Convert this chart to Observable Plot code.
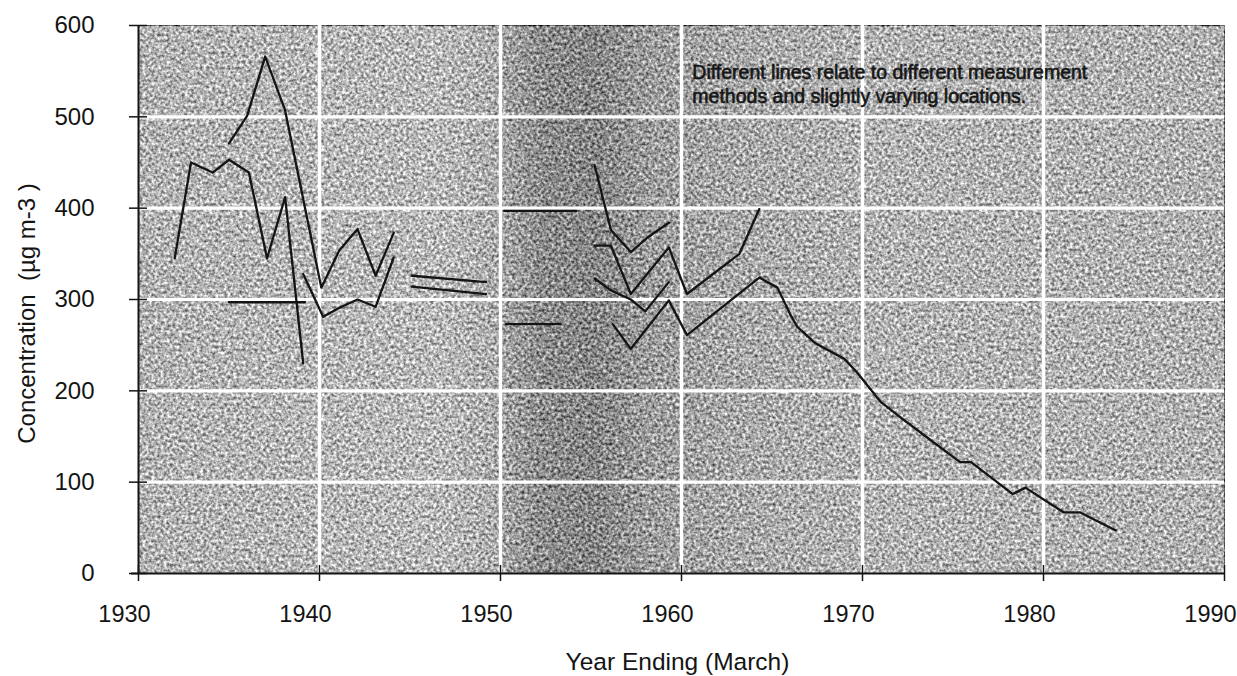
<!DOCTYPE html>
<html>
<head>
<meta charset="utf-8">
<script src="https://cdn.jsdelivr.net/npm/d3@7"></script>
<script src="https://cdn.jsdelivr.net/npm/@observablehq/plot@0.6"></script>
<style>
  html, body { margin: 0; padding: 0; background: #fff; }
  #chart { width: 1237px; height: 676px; }
</style>
</head>
<body>
<div id="chart"></div>
<script>
// Smoke concentration, year ending March. Each array is one measurement series: [year, µg m-3].
const lineA = [[1932.0,345],[1932.9,450],[1934.1,439],[1935.0,453],[1936.1,439],[1937.1,345],[1938.1,412],[1939.1,230]];
const lineB = [[1935.0,471],[1936.0,501],[1937.0,566],[1938.1,507],[1940.1,313],[1941.1,354],[1942.1,377],[1943.1,326],[1944.1,373]];
const lineC = [[1935.0,297],[1939.2,297]];
const lineD = [[1939.1,328],[1940.2,281],[1941.1,291],[1942.1,300],[1943.1,292],[1944.1,346]];
const lineE1 = [[1945.1,326],[1949.2,319]];
const lineE2 = [[1945.1,314],[1949.2,306]];
const lineF = [[1950.2,397],[1954.2,397]];
const lineG = [[1950.3,273],[1953.3,273]];
const lineH = [[1955.2,447],[1956.1,376],[1957.2,352],[1958.2,369],[1959.3,384]];
const lineI = [[1955.2,359],[1956.1,359],[1957.2,306],[1959.3,357],[1960.3,306],[1963.2,350],[1964.3,399]];
const lineJ = [[1955.2,323],[1956.1,310],[1957.2,300],[1958.0,287],[1959.3,319]];
const lineK = [[1956.2,273],[1957.2,246],[1959.3,299],[1960.3,261],[1964.3,324],[1965.3,313],[1966.0,284],
               [1966.4,270],[1967.4,252],[1969.0,235],[1969.7,220],[1971.0,188],[1972.1,171],[1973.9,144],
               [1975.4,122],[1976.0,122],[1978.3,87],[1979.0,94],[1981.1,67],[1982.0,67],[1984.0,47]];

// Axis ticks and grid positions
const xTicks = [1930, 1940, 1950, 1960, 1970, 1980, 1990];
const yTicks = [0, 100, 200, 300, 400, 500, 600];
const xGrid = [1940, 1950, 1960, 1970, 1980];
const yGrid = [100, 200, 300, 400, 500];

// Text
const yTitle = "Concentration  (µg m-3 )";
const xTitle = "Year Ending (March)";
const noteText = "Different lines relate to different measurement\nmethods and slightly varying locations.";
const noteAt = {year: 1960.6, value: 560};

const seriesList = [lineA, lineB, lineC, lineD, lineE1, lineE2, lineF, lineG, lineH, lineI, lineJ, lineK];
const rows = seriesList.flatMap((pts, id) => pts.map(([year, value]) => ({id, year, value})));

const font = "'Liberation Sans', Arial, Helvetica, sans-serif";
const ink = "#141414";

const chart = Plot.plot({
  width: 1237,
  height: 676,
  marginLeft: 138,
  marginRight: 13,
  marginTop: 25,
  marginBottom: 103,
  style: {fontFamily: font, fontSize: "24px", color: ink, background: "#fff", overflow: "visible"},
  x: {domain: [1930, 1990]},
  y: {domain: [0, 600]},
  marks: [
    Plot.frame({fill: "url(#bgShade)", stroke: "none"}),
    Plot.gridX(xGrid, {stroke: "#fff", strokeOpacity: 1, strokeWidth: 3.5}),
    Plot.gridY(yGrid, {stroke: "#fff", strokeOpacity: 1, strokeWidth: 3.2}),
    Plot.line(rows, {x: "year", y: "value", z: "id", stroke: ink, strokeWidth: 2.3, strokeLinejoin: "round"}),
    Plot.ruleX([1930], {stroke: ink, strokeWidth: 2}),
    Plot.ruleY([0], {stroke: ink, strokeWidth: 2.2, insetLeft: -7}),
    // tick marks crossing the axis lines
    Plot.axisX({ticks: xTicks, tickSize: 16, dy: -8, tickFormat: () => "", stroke: ink, strokeWidth: 1.5, label: null}),
    Plot.axisY({ticks: yTicks, tickSize: 18, dx: 9, tickFormat: () => "", stroke: ink, strokeWidth: 1.5, label: null}),
    // tick labels
    Plot.axisX({ticks: xTicks, tickSize: 0, tickPadding: 32, dx: -14, fontSize: 23.5, tickFormat: d => String(d), label: null}),
    Plot.axisY({ticks: yTicks, tickSize: 0, tickPadding: 44, fontSize: 24, tickFormat: d => String(d), label: null}),
    // axis titles
    Plot.text([yTitle], {frameAnchor: "left", text: d => d, rotate: -90, dx: -111, dy: 14, fontSize: 24, fill: ink,
      textAnchor: "middle", lineAnchor: "middle"}),
    Plot.text([xTitle], {frameAnchor: "bottom", text: d => d, dx: -4, dy: 89, fontSize: 24.5, fill: ink, lineAnchor: "middle"}),
    // note
    Plot.text([noteAt], {x: "year", y: "value", text: () => noteText, textAnchor: "start", lineAnchor: "top",
      fontSize: 19.5, lineHeight: 1.23, fill: "#161616", stroke: "#161616", strokeWidth: 0.6})
  ]
});

// Shaded, grainy paper behind the plot area
const svg = d3.select(chart);
const defs = svg.insert("defs", ":first-child");
const grad = defs.append("linearGradient").attr("id", "bgShade").attr("x1", 0).attr("x2", 1).attr("y1", 0).attr("y2", 0);
[[0, "#b2b2b2"], [0.28, "#b9b9b9"], [0.325, "#adadad"], [0.37, "#8c8c8c"], [0.42, "#858585"],
 [0.47, "#9c9c9c"], [0.55, "#a8a8a8"], [0.68, "#b3b3b3"], [1, "#b1b1b1"]]
  .forEach(([o, c]) => grad.append("stop").attr("offset", o).attr("stop-color", c));
const filt = defs.append("filter").attr("id", "grain").attr("x", 0).attr("y", 0).attr("width", 1).attr("height", 1)
  .attr("color-interpolation-filters", "sRGB");
filt.append("feTurbulence").attr("type", "fractalNoise").attr("baseFrequency", 0.33).attr("numOctaves", 2).attr("seed", 7).attr("result", "noise");
filt.append("feColorMatrix").attr("in", "noise").attr("type", "matrix")
  .attr("values", "1 0 0 0 0  1 0 0 0 0  1 0 0 0 0  0 0 0 0 1").attr("result", "grey");
filt.append("feComposite").attr("in", "SourceGraphic").attr("in2", "grey").attr("operator", "arithmetic")
  .attr("k1", 0).attr("k2", 1).attr("k3", 1.1).attr("k4", -0.55);
svg.selectAll('[aria-label="frame"]').attr("filter", "url(#grain)");

document.getElementById("chart").appendChild(chart);
</script>
</body>
</html>
